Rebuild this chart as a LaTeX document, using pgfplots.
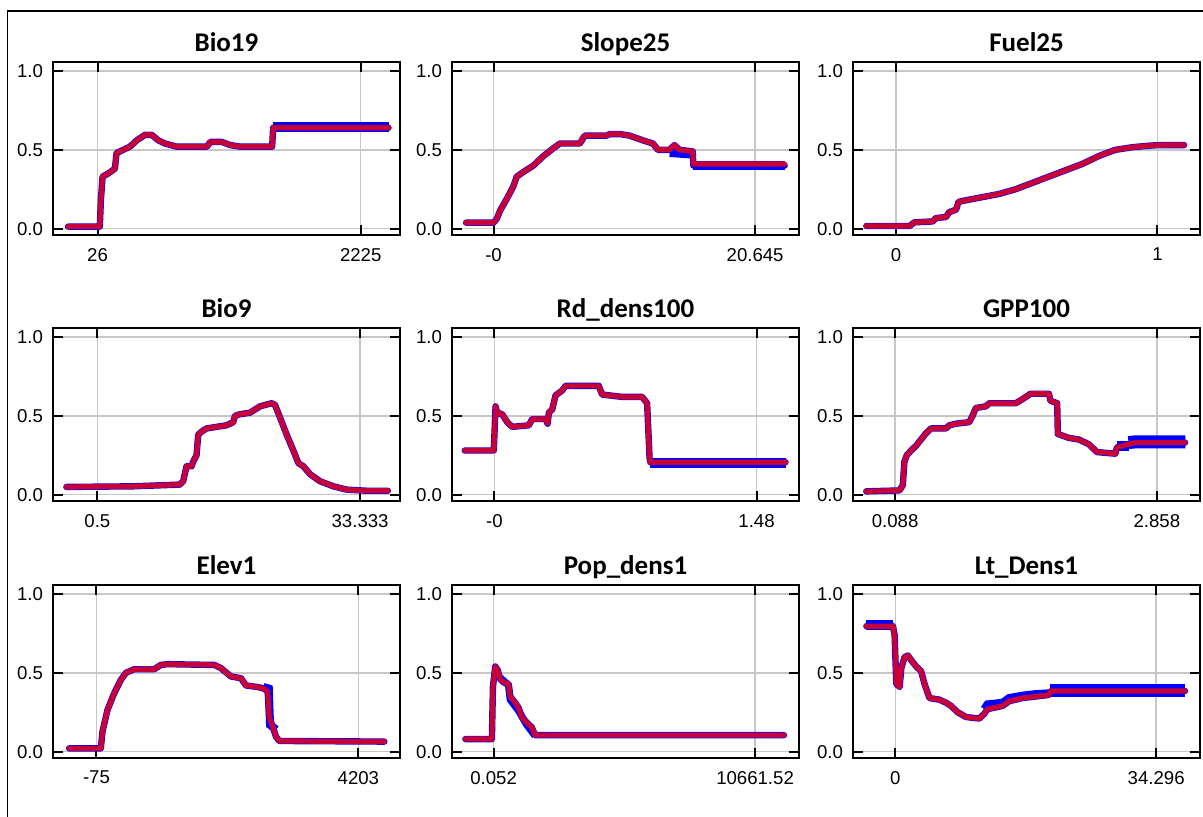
\documentclass[border=0pt]{standalone}
\usepackage{fontspec}
\setmainfont{Liberation Sans}
\newfontfamily\titlefont{Carlito}
\usepackage{pgfplots}
\pgfplotsset{compat=1.18}

\pgfplotsset{
  resp/.style={
    scale only axis, width=173.5pt, height=86.5pt, anchor=south west,
    ymin=-0.04, ymax=1.057, ytick={0,0.5,1}, yticklabels={0.0,0.5,1.0},
    scaled ticks=false,
    grid=major, major grid style={draw=black!22, line width=0.7pt},
    tick align=inside, major tick length=5pt,
    tick style={black, line width=1pt},
    axis line style={line width=1.1pt},
    /pgf/number format/assume math mode=true,
    tick label style={font=\fontsize{9.3}{11}\selectfont},
    xticklabel style={yshift=-3pt},
    yticklabel style={xshift=-1.5pt},
    title style={font=\titlefont\bfseries\fontsize{13.5}{15}\selectfont,
      at={(0.5,1)}, anchor=base, yshift=-1pt},
  },
  band/.style={blue, line width=3.2pt, line join=round, line cap=round},
  wide/.style={blue, line width=#1, line cap=butt},
  mean/.style={red, opacity=0.78, line width=2.6pt, line join=round, line cap=round},
}

\begin{document}
\begin{tikzpicture}
\useasboundingbox (0,0) rectangle (601.5pt,408.5pt);
\draw[line width=0.8pt] (3.75pt,0) -- (3.75pt,403pt) -- (601.5pt,403pt);

% ---------- row 1 ----------
\begin{axis}[resp, at={(26.5pt,291pt)}, title={Bio19},
  xmin=-346, xmax=2553, xtick={26,2225}, xticklabels={26,2225}]
\addplot[band] coordinates {(-220,0.013)(45,0.013)(54,0.18)(68,0.33)(115,0.35)(171,0.38)(185,0.48)(241,0.50)(297,0.52)(353,0.56)(423,0.595)(479,0.595)(534,0.56)(590,0.54)(688,0.52)(940,0.52)(968,0.55)(1065,0.55)(1135,0.53)(1219,0.52)(1485,0.52)(1493,0.64)(2457,0.64)};
\addplot[wide=5pt] coordinates {(1493,0.643)(2460,0.643)};
\addplot[mean] coordinates {(-220,0.013)(45,0.013)(54,0.18)(68,0.33)(115,0.35)(171,0.38)(185,0.48)(241,0.50)(297,0.52)(353,0.56)(423,0.595)(479,0.595)(534,0.56)(590,0.54)(688,0.52)(940,0.52)(968,0.55)(1065,0.55)(1135,0.53)(1219,0.52)(1485,0.52)(1493,0.64)(2457,0.64)};
\end{axis}

\begin{axis}[resp, at={(226pt,291pt)}, title={Slope25},
  xmin=-3.28, xmax=24.11, xtick={0,20.645}, xticklabels={-0,20.645}]
\addplot[band] coordinates {(-2.17,0.038)(0,0.038)(0.26,0.063)(0.52,0.116)(1.05,0.19)(1.57,0.27)(1.83,0.33)(2.36,0.36)(3.14,0.40)(3.93,0.46)(4.72,0.51)(5.24,0.54)(6.81,0.54)(7.20,0.59)(8.91,0.59)(9.17,0.60)(9.96,0.60)(10.74,0.59)(11.79,0.56)(12.58,0.54)(12.97,0.50)(13.89,0.50)(14.28,0.53)(14.67,0.50)(15.72,0.49)(15.77,0.40)(22.98,0.40)};
\addplot[wide=4pt] coordinates {(13.9,0.48)(15.7,0.47)};
\addplot[wide=4.2pt] coordinates {(15.77,0.40)(23.0,0.40)};
\addplot[mean] coordinates {(-2.17,0.038)(0,0.038)(0.26,0.063)(0.52,0.116)(1.05,0.19)(1.57,0.27)(1.83,0.33)(2.36,0.36)(3.14,0.40)(3.93,0.46)(4.72,0.51)(5.24,0.54)(6.81,0.54)(7.20,0.59)(8.91,0.59)(9.17,0.60)(9.96,0.60)(10.74,0.59)(11.79,0.56)(12.58,0.54)(12.97,0.50)(13.89,0.50)(14.28,0.53)(14.67,0.50)(15.72,0.49)(15.77,0.41)(22.98,0.41)};
\end{axis}

\begin{axis}[resp, at={(426.5pt,291pt)}, title={Fuel25},
  xmin=-0.165, xmax=1.163, xtick={0,1}, xticklabels={0,1}]
\addplot[band] coordinates {(-0.114,0.017)(0.051,0.017)(0.070,0.04)(0.140,0.046)(0.152,0.067)(0.191,0.074)(0.203,0.105)(0.229,0.12)(0.239,0.17)(0.267,0.18)(0.330,0.20)(0.394,0.22)(0.457,0.25)(0.521,0.29)(0.584,0.33)(0.648,0.37)(0.712,0.41)(0.775,0.46)(0.839,0.50)(0.902,0.516)(0.966,0.526)(1.004,0.53)(1.102,0.53)};
\addplot[mean] coordinates {(-0.114,0.017)(0.051,0.017)(0.070,0.04)(0.140,0.046)(0.152,0.067)(0.191,0.074)(0.203,0.105)(0.229,0.12)(0.239,0.17)(0.267,0.18)(0.330,0.20)(0.394,0.22)(0.457,0.25)(0.521,0.29)(0.584,0.33)(0.648,0.37)(0.712,0.41)(0.775,0.46)(0.839,0.50)(0.902,0.516)(0.966,0.526)(1.004,0.53)(1.102,0.53)};
\end{axis}

% ---------- row 2 ----------
\begin{axis}[resp, at={(26.5pt,158pt)}, title={Bio9},
  xmin=-5.05, xmax=38.32, xtick={0.5,33.333}, xticklabels={0.5,33.333}]
\addplot[band] coordinates {(-3.38,0.049)(4.96,0.053)(10.80,0.064)(11.22,0.085)(11.64,0.18)(12.27,0.18)(12.47,0.21)(12.89,0.25)(13.10,0.38)(13.52,0.40)(14.14,0.42)(15.39,0.43)(16.65,0.44)(17.48,0.46)(17.69,0.50)(18.31,0.51)(19.57,0.52)(20.82,0.56)(22.28,0.58)(22.69,0.57)(23.32,0.49)(24.16,0.38)(24.99,0.28)(25.62,0.20)(26.24,0.18)(27.08,0.13)(28.33,0.085)(29.99,0.053)(31.66,0.032)(34.17,0.025)(36.80,0.025)};
\addplot[mean] coordinates {(-3.38,0.049)(4.96,0.053)(10.80,0.064)(11.22,0.085)(11.64,0.18)(12.27,0.18)(12.47,0.21)(12.89,0.25)(13.10,0.38)(13.52,0.40)(14.14,0.42)(15.39,0.43)(16.65,0.44)(17.48,0.46)(17.69,0.50)(18.31,0.51)(19.57,0.52)(20.82,0.56)(22.28,0.58)(22.69,0.57)(23.32,0.49)(24.16,0.38)(24.99,0.28)(25.62,0.20)(26.24,0.18)(27.08,0.13)(28.33,0.085)(29.99,0.053)(31.66,0.032)(34.17,0.025)(36.80,0.025)};
\end{axis}

\begin{axis}[resp, at={(226pt,158pt)}, title={Rd\_dens100},
  xmin=-0.240, xmax=1.720, xtick={0,1.48}, xticklabels={-0,1.48}]
\addplot[band] coordinates {(-0.168,0.28)(-0.004,0.28)(0.006,0.56)(0.015,0.52)(0.043,0.51)(0.072,0.46)(0.100,0.43)(0.194,0.44)(0.213,0.48)(0.288,0.48)(0.300,0.45)(0.307,0.52)(0.326,0.54)(0.345,0.63)(0.382,0.66)(0.401,0.69)(0.589,0.69)(0.608,0.635)(0.721,0.62)(0.834,0.62)(0.862,0.58)(0.876,0.23)(0.881,0.206)(1.644,0.206)};
\addplot[wide=5pt] coordinates {(0.881,0.203)(1.647,0.203)};
\addplot[mean] coordinates {(-0.168,0.28)(-0.004,0.28)(0.006,0.56)(0.015,0.52)(0.043,0.51)(0.072,0.46)(0.100,0.43)(0.194,0.44)(0.213,0.48)(0.288,0.48)(0.300,0.45)(0.307,0.52)(0.326,0.54)(0.345,0.63)(0.382,0.66)(0.401,0.69)(0.589,0.69)(0.608,0.635)(0.721,0.62)(0.834,0.62)(0.862,0.58)(0.876,0.23)(0.881,0.206)(1.644,0.206)};
\end{axis}

\begin{axis}[resp, at={(426.5pt,158pt)}, title={GPP100},
  xmin=-0.358, xmax=3.315, xtick={0.088,2.858}, xticklabels={0.088,2.858}]
\addplot[band] coordinates {(-0.218,0.021)(0.134,0.027)(0.169,0.06)(0.186,0.21)(0.211,0.25)(0.257,0.28)(0.309,0.31)(0.362,0.35)(0.415,0.39)(0.468,0.42)(0.626,0.42)(0.661,0.44)(0.731,0.45)(0.872,0.46)(0.907,0.50)(0.942,0.55)(1.048,0.56)(1.083,0.58)(1.364,0.58)(1.434,0.605)(1.522,0.64)(1.715,0.64)(1.733,0.595)(1.803,0.58)(1.810,0.385)(1.926,0.36)(2.032,0.35)(2.137,0.32)(2.225,0.27)(2.418,0.26)(2.436,0.30)(2.559,0.32)(2.629,0.33)(3.157,0.33)};
\addplot[wide=5pt] coordinates {(2.436,0.31)(2.559,0.31)};
\addplot[wide=6.5pt] coordinates {(2.559,0.33)(2.629,0.335)(3.16,0.335)};
\addplot[mean] coordinates {(-0.218,0.021)(0.134,0.027)(0.169,0.06)(0.186,0.21)(0.211,0.25)(0.257,0.28)(0.309,0.31)(0.362,0.35)(0.415,0.39)(0.468,0.42)(0.626,0.42)(0.661,0.44)(0.731,0.45)(0.872,0.46)(0.907,0.50)(0.942,0.55)(1.048,0.56)(1.083,0.58)(1.364,0.58)(1.434,0.605)(1.522,0.64)(1.715,0.64)(1.733,0.595)(1.803,0.58)(1.810,0.385)(1.926,0.36)(2.032,0.35)(2.137,0.32)(2.225,0.27)(2.418,0.26)(2.436,0.30)(2.559,0.32)(2.629,0.33)(3.157,0.33)};
\end{axis}

% ---------- row 3 ----------
\begin{axis}[resp, at={(26.5pt,29.5pt)}, title={Elev1},
  xmin=-785, xmax=4883, xtick={-75,4203}, xticklabels={-75,4203}]
\addplot[band] coordinates {(-522,0.021)(-4,0.021)(23,0.127)(105,0.265)(214,0.37)(323,0.455)(405,0.50)(541,0.523)(868,0.523)(977,0.55)(1086,0.555)(1849,0.55)(1958,0.53)(2121,0.477)(2285,0.466)(2367,0.42)(2557,0.41)(2666,0.40)(2721,0.38)(2748,0.22)(2803,0.16)(2857,0.095)(2912,0.068)(4628,0.064)};
\addplot[wide=4pt] coordinates {(2650,0.41)(2740,0.40)(2760,0.17)(2860,0.14)};
\addplot[mean] coordinates {(-522,0.021)(-4,0.021)(23,0.127)(105,0.265)(214,0.37)(323,0.455)(405,0.50)(541,0.523)(868,0.523)(977,0.55)(1086,0.555)(1849,0.55)(1958,0.53)(2121,0.477)(2285,0.466)(2367,0.42)(2557,0.41)(2666,0.40)(2721,0.38)(2748,0.22)(2803,0.16)(2857,0.095)(2912,0.068)(4628,0.064)};
\end{axis}

\begin{axis}[resp, at={(226pt,29.5pt)}, title={Pop\_dens1},
  xmin=-1695, xmax=12453, xtick={0.052,10661.52}, xticklabels={0.052,10661.52}]
\addplot[band] coordinates {(-1150,0.08)(-68,0.08)(-27,0.41)(68,0.54)(162,0.52)(271,0.46)(406,0.44)(609,0.43)(677,0.35)(879,0.31)(1015,0.28)(1150,0.22)(1353,0.185)(1556,0.155)(1691,0.105)(11839,0.105)};
\addplot[wide=3.5pt] coordinates {(271,0.47)(609,0.42)(677,0.33)(1015,0.26)(1353,0.17)(1691,0.10)};
\addplot[mean] coordinates {(-1150,0.08)(-68,0.08)(-27,0.41)(68,0.54)(162,0.52)(271,0.46)(406,0.44)(609,0.43)(677,0.35)(879,0.31)(1015,0.28)(1150,0.22)(1353,0.185)(1556,0.155)(1691,0.105)(11839,0.105)};
\end{axis}

\begin{axis}[resp, at={(426.5pt,29.5pt)}, title={Lt\_Dens1},
  xmin=-5.56, xmax=40.06, xtick={0,34.296}, xticklabels={0,34.296}]
\addplot[band] coordinates {(-3.80,0.796)(-0.31,0.796)(-0.09,0.74)(0.13,0.43)(0.57,0.41)(0.79,0.53)(1.22,0.60)(1.66,0.61)(2.09,0.58)(2.75,0.54)(3.40,0.51)(3.84,0.43)(4.49,0.34)(5.80,0.33)(6.68,0.31)(7.33,0.29)(8.20,0.25)(9.29,0.22)(11.04,0.21)(11.69,0.24)(12.13,0.27)(14.09,0.29)(14.96,0.32)(16.71,0.34)(18.46,0.35)(20.20,0.36)(20.42,0.385)(38.09,0.385)};
\addplot[wide=5pt] coordinates {(-3.85,0.805)(-0.3,0.805)};
\addplot[wide=4pt] coordinates {(11.69,0.27)(12.13,0.30)(14.09,0.31)(14.96,0.34)(16.71,0.355)(18.46,0.365)(20.2,0.37)};
\addplot[wide=6.5pt] coordinates {(20.3,0.39)(38.12,0.39)};
\addplot[mean] coordinates {(-3.80,0.796)(-0.31,0.796)(-0.09,0.74)(0.13,0.43)(0.57,0.41)(0.79,0.53)(1.22,0.60)(1.66,0.61)(2.09,0.58)(2.75,0.54)(3.40,0.51)(3.84,0.43)(4.49,0.34)(5.80,0.33)(6.68,0.31)(7.33,0.29)(8.20,0.25)(9.29,0.22)(11.04,0.21)(11.69,0.24)(12.13,0.27)(14.09,0.29)(14.96,0.32)(16.71,0.34)(18.46,0.35)(20.20,0.36)(20.42,0.385)(38.09,0.385)};
\end{axis}
\end{tikzpicture}
\end{document}
